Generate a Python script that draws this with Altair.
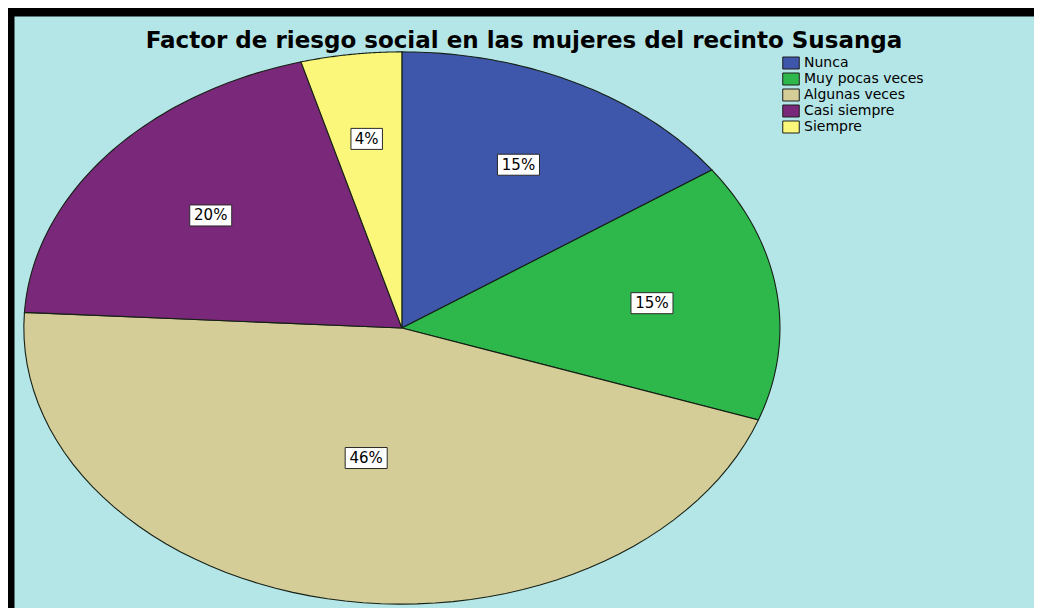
import altair as alt
import pandas as pd

categories = ["Nunca", "Muy pocas veces", "Algunas veces", "Casi siempre", "Siempre"]
values = [15.3, 15.1, 45.5, 19.8, 4.3]
colors = ["#3e57aa", "#2eb84b", "#d4cd98", "#7a2879", "#fbf77a"]

df = pd.DataFrame({"cat": categories, "value": values, "order": list(range(len(categories)))})

# pixel scale of the ellipse (horizontal / vertical radius in px)
RX = 378.0
RY = 276.0
xdom = [-1.026, 1.672]
ydom = [-1.014, 1.130]

xs = alt.Scale(domain=xdom, nice=False, zero=False)
ys = alt.Scale(domain=ydom, nice=False, zero=False)

base = (
    alt.Chart(df)
    .transform_joinaggregate(total="sum(value)")
    .transform_window(cum="sum(value)", sort=[alt.SortField("order")], frame=[None, 0])
    .transform_calculate(
        start="(datum.cum - datum.value) / datum.total",
        end="datum.cum / datum.total",
    )
)

slices = (
    base.transform_calculate(pts="sequence(0, 63)")
    .transform_flatten(["pts"])
    .transform_calculate(
        t="datum.start + (datum.end - datum.start) * (datum.pts - 1) / 60",
    )
    .transform_calculate(
        px="(datum.pts > 0 && datum.pts < 62) ? sin(2 * PI * datum.t) : 0",
        py="(datum.pts > 0 && datum.pts < 62) ? cos(2 * PI * datum.t) : 0",
    )
    .mark_line(stroke="#152015", strokeWidth=1.1, interpolate="linear")
    .encode(
        x=alt.X("px:Q", scale=xs, axis=None),
        y=alt.Y("py:Q", scale=ys, axis=None),
        order=alt.Order("pts:Q"),
        detail="cat:N",
        fill=alt.Fill(
            "cat:N",
            scale=alt.Scale(domain=categories, range=colors),
            legend=alt.Legend(
                title=None,
                orient="none",
                legendX=769,
                legendY=39,
                symbolType="M-1.1,-0.8L1.1,-0.8L1.1,0.8L-1.1,0.8Z",
                symbolSize=225,
                symbolStrokeColor="#1e1e1e",
                symbolStrokeWidth=1,
                symbolOpacity=1,
                labelFont="DejaVu Sans",
                labelFontSize=14,
                labelColor="black",
                labelOffset=5,
                rowPadding=0,
            ),
        ),
    )
)

labels_base = base.transform_calculate(
    mid="(datum.start + datum.end) / 2",
    half="PI * (datum.end - datum.start)",
    label="round(datum.value / datum.total * 100) + '%'",
).transform_calculate(
    rf="1.04 * 2 * sin(datum.half) / (3 * datum.half)",
).transform_calculate(
    lx="datum.rf * sin(2 * PI * datum.mid)",
    ly="datum.rf * cos(2 * PI * datum.mid)",
    hw=f"(10.5 * length(datum.label) + 10.5) / 2 / {RX}",
    hh=f"10.5 / {RY}",
).transform_calculate(
    bx1="datum.lx - datum.hw",
    bx2="datum.lx + datum.hw",
    by1="datum.ly - datum.hh",
    by2="datum.ly + datum.hh",
)

boxes = labels_base.mark_rect(fill="white", stroke="#2a2a2a", strokeWidth=1).encode(
    x=alt.X("bx1:Q", scale=xs, axis=None),
    x2="bx2:Q",
    y=alt.Y("by1:Q", scale=ys, axis=None),
    y2="by2:Q",
)

texts = labels_base.mark_text(
    font="DejaVu Sans", fontSize=15, color="black", baseline="middle", align="center"
).encode(
    x=alt.X("lx:Q", scale=xs, axis=None),
    y=alt.Y("ly:Q", scale=ys, axis=None),
    text="label:N",
)

chart = (
    alt.layer(slices, boxes, texts)
    .properties(
        width=1020,
        height=592,
        background="black",
        padding={"left": 6, "top": 8, "right": 0, "bottom": 0},
        autosize=alt.AutoSizeParams(type="none"),
        title=alt.Title(
            "Factor de riesgo social en las mujeres del recinto Susanga",
            font="DejaVu Sans",
            fontSize=23,
            fontWeight="bold",
            color="black",
            anchor="middle",
            offset=-55,
            baseline="alphabetic",
        ),
    )
    .configure_view(fill="#b4e5e7", strokeOpacity=0)
)

chart.save("out.html", embed_options={"renderer": "svg", "actions": False})
